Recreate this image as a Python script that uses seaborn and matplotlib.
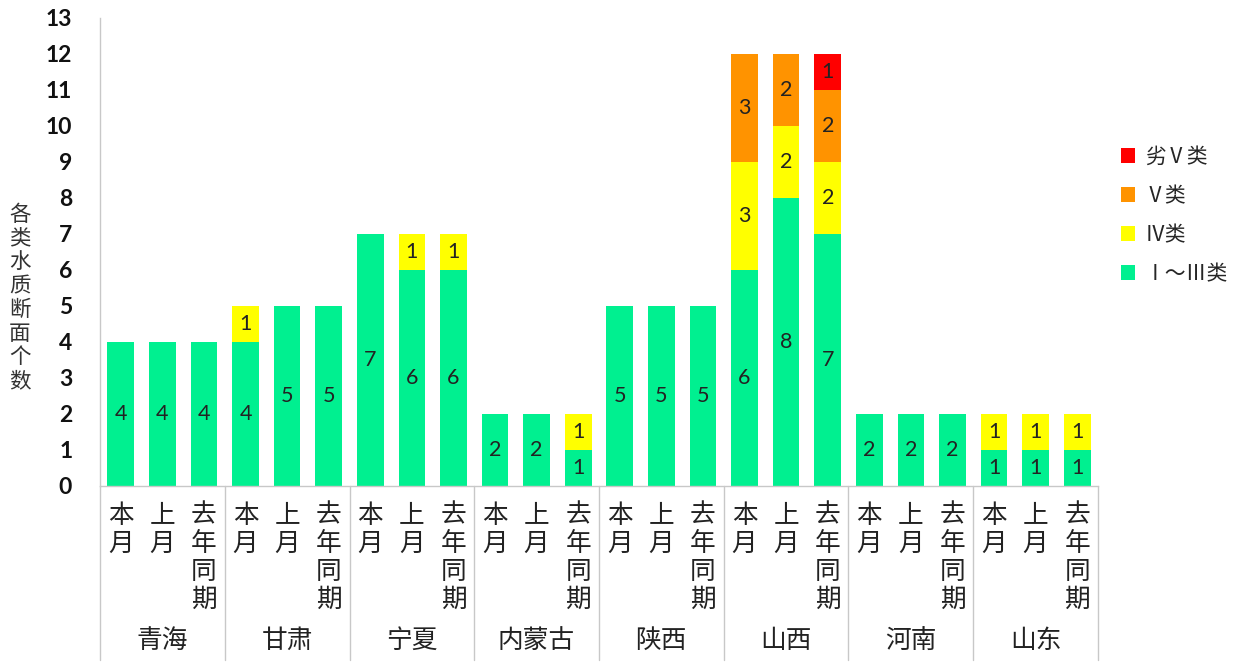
import matplotlib
matplotlib.use("Agg")
import matplotlib.pyplot as plt
from matplotlib.patches import Patch
import seaborn as sns
import pandas as pd
import numpy as np

provinces = ["青海", "甘肃", "宁夏", "内蒙古", "陕西", "山西", "河南", "山东"]
periods = ["本月", "上月", "去年同期"]
classes = ["Ⅰ～Ⅲ类", "Ⅳ类", "Ⅴ类", "劣Ⅴ类"]
colors = {"Ⅰ～Ⅲ类": "#00F090", "Ⅳ类": "#FFFF00", "Ⅴ类": "#FF9300", "劣Ⅴ类": "#FF0000"}

# values per bar (province x period), order: 本月, 上月, 去年同期
class_1_3 = [4, 4, 4, 4, 5, 5, 7, 6, 6, 2, 2, 1, 5, 5, 5, 6, 8, 7, 2, 2, 2, 1, 1, 1]
class_4   = [0, 0, 0, 1, 0, 0, 0, 1, 1, 0, 0, 1, 0, 0, 0, 3, 2, 2, 0, 0, 0, 1, 1, 1]
class_5   = [0, 0, 0, 0, 0, 0, 0, 0, 0, 0, 0, 0, 0, 0, 0, 3, 2, 2, 0, 0, 0, 0, 0, 0]
class_w5  = [0, 0, 0, 0, 0, 0, 0, 0, 0, 0, 0, 0, 0, 0, 0, 0, 0, 1, 0, 0, 0, 0, 0, 0]

sns.set_theme(style="white")
plt.rcParams['font.family'] = ['Noto Sans CJK SC', 'DejaVu Sans']

vals = np.array([class_1_3, class_4, class_5, class_w5])
cum = vals.cumsum(axis=0)
nbar = vals.shape[1]
keys = [str(i) for i in range(nbar)]

rows = []
for ci, cname in enumerate(classes):
    for bi in range(nbar):
        rows.append({"bar": keys[bi], "cum": cum[ci, bi], "cls": cname})
df = pd.DataFrame(rows)

fig = plt.figure(figsize=(12.34, 6.64), dpi=100)
ax = fig.add_axes([100/1234, (664-486)/664, (1098-100)/1234, (486-18)/664])

sns.barplot(data=df, x="bar", y="cum", hue="cls", order=keys,
            hue_order=classes[::-1], palette=colors, dodge=False, saturation=1,
            width=0.64, legend=False, ax=ax, linewidth=0)

ax.set_xlim(-0.5, nbar - 0.5)
ax.set_ylim(0, 13)
ax.set_yticks(range(0, 14))
ax.set_yticklabels([str(i) for i in range(14)], fontsize=16.5, fontweight="bold",
                   family=["Lato", "DejaVu Sans"], color="#111111")
ax.set_ylabel("")
ax.set_xlabel("")

# segment labels
for ci in range(len(classes)):
    for bi in range(nbar):
        v = vals[ci, bi]
        if v > 0:
            bottom = cum[ci, bi] - v
            ax.text(bi, bottom + v / 2, str(v), ha="center", va="center",
                    fontsize=15.5, family=["Lato", "DejaVu Sans"], color="#222222")

# x tick labels (vertical characters)
ax.set_xticks(range(nbar))
ax.set_xticklabels(["\n".join(periods[i % 3]) for i in range(nbar)],
                   fontsize=18.5, linespacing=1.1, va="top", color="#222222")
ax.tick_params(axis="x", length=0, pad=12)
ax.tick_params(axis="y", length=0, pad=20)

for s in ["top", "right"]:
    ax.spines[s].set_visible(False)
for s in ["left", "bottom"]:
    ax.spines[s].set_color("#C8C8C8")
    ax.spines[s].set_linewidth(1.0)

# group separators and group labels
tr = ax.get_xaxis_transform()
ylow = -(660 - 486) / 468
for g in range(len(provinces) + 1):
    xg = g * 3 - 0.5
    ax.plot([xg, xg], [0, ylow], transform=tr, color="#C8C8C8", lw=1.0, clip_on=False)
for g, p in enumerate(provinces):
    ax.text(g * 3 + 1, -(641 - 486) / 468, p, transform=tr, ha="center", va="center",
            fontsize=18.5, color="#222222")

# y label as vertical characters
fig.text(20/1234, 1 - 298/664, "\n".join("各类水质断面个数"), ha="center", va="center",
         fontsize=15.5, linespacing=1.1, color="#333333")

# legend
handles = [Patch(facecolor=colors[c], edgecolor="none") for c in classes[::-1]]
leg = fig.legend(handles, classes[::-1], loc="upper left", bbox_to_anchor=(1102/1234, 1 - 127/664),
                 frameon=False, fontsize=15, handlelength=0.7, handleheight=0.7,
                 labelspacing=0.82, handletextpad=0.45)

fig.savefig("out.png", dpi=100)
